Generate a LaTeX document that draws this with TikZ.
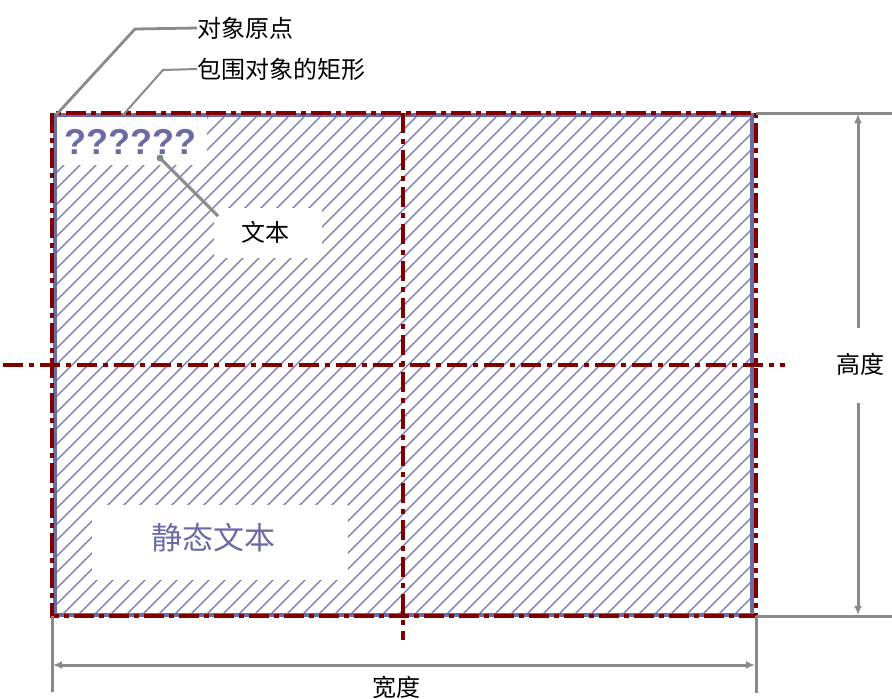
\documentclass[tikz,border=0pt]{standalone}
\usepackage{fontspec}
\setmainfont{Noto Sans CJK SC}
\newfontfamily\qfont{Liberation Sans}
\usetikzlibrary{arrows.meta}
\definecolor{slate}{RGB}{107,107,166}
\definecolor{hatchc}{RGB}{115,115,175}
\definecolor{dred}{RGB}{128,0,0}
\definecolor{lgray}{RGB}{138,138,138}
\begin{document}
\begin{tikzpicture}[x=1pt,y=-1pt,
  lbl/.style={font=\fontsize{24}{24}\selectfont, inner sep=0pt, text=black},
  leader/.style={draw=lgray, line width=2.8pt},
  dimline/.style={draw=lgray, line width=3pt},
  dimarr/.style={draw=lgray, line width=3pt, -{Latex[length=9pt,width=8pt]}},
  dimboth/.style={draw=lgray, line width=3pt, {Latex[length=9pt,width=8pt]}-{Latex[length=9pt,width=8pt]}},
  centreline/.style={draw=dred, line width=4pt, dash pattern=on 20pt off 6pt on 5pt off 6pt},
  hatchline/.style={draw=hatchc, line width=1.3pt},
  gap/.style={fill=white, draw=none},
  ]
\useasboundingbox (0,0) rectangle (892,699);
% hatching
\begin{scope}
  \clip (55,115) rectangle (752,615);
  \foreach \c in {-450,-434,...,760} \draw[hatchline] (\c,615) -- ++(500,-500);
\end{scope}
% white gaps in hatching
\fill[gap] (55,115) rectangle (207,165);
\fill[gap] (214,208) rectangle (322,258);
\fill[gap] (92,505) rectangle (348,580);
% texts inside
\node[inner sep=0pt, font=\qfont\bfseries\fontsize{36}{36}\selectfont, text=slate] (qq) at (130,142) {??????};
\node[lbl] (wb) at (265,232) {文本};
\node[inner sep=0pt, font=\fontsize{31}{31}\selectfont, text=slate] (jt) at (213,538) {静态文本};
% rectangles
\draw[slate, line width=4pt] (55,115) rectangle (752,615);
\draw[dred, line width=4.5pt, dash pattern=on 20pt off 5pt on 5pt off 5pt] (52,113) rectangle (756,616);
% centre lines
\coordinate (vt) at (403,113);
\coordinate (vb) at (403,640);
\coordinate (hl) at (3,365);
\coordinate (hr) at (785,365);
\draw[centreline] (vt) -- (vb);
\draw[centreline] (hl) -- (hr);
% top labels and leaders
\node[lbl, anchor=west] (orig) at (197,28) {对象原点};
\node[lbl, anchor=west] (bbox) at (197,69) {包围对象的矩形};
\coordinate (o1) at (56,115);
\coordinate (o2) at (135,29);
\coordinate (b1) at (123,115);
\coordinate (b2) at (163,70);
\draw[leader] (o1) -- (o2) -- (orig.west);
\draw[leader, line width=2pt] (b1) -- (b2) -- (bbox.west);
% leader to text
\coordinate (t1) at (160,158);
\coordinate (t2) at (218,216);
\fill[lgray] (t1) circle (3.5pt);
\draw[leader, line width=3pt] (t1) -- (t2);
% height dimension
\coordinate (e1) at (756,113);
\coordinate (e1r) at (892,113);
\coordinate (e2) at (756,616);
\coordinate (e2r) at (892,616);
\draw[dimline] (e1) -- (e1r);
\draw[dimline] (e2) -- (e2r);
\node[lbl] (hgt) at (860,364) {高度};
\coordinate (vd1) at (858,328);
\coordinate (vd1t) at (858,114);
\coordinate (vd2) at (858,403);
\coordinate (vd2b) at (858,615);
\draw[dimarr] (vd1) -- (vd1t);
\draw[dimarr] (vd2) -- (vd2b);
% width dimension
\coordinate (w1) at (52,616);
\coordinate (w1b) at (52,692);
\coordinate (w2) at (756,616);
\coordinate (w2b) at (756,693);
\draw[dimline] (w1) -- (w1b);
\draw[dimline] (w2) -- (w2b);
\coordinate (wa) at (53,665);
\coordinate (wb2) at (755,665);
\draw[dimboth] (wa) -- (wb2);
\node[lbl] (wid) at (396,687) {宽度};
\end{tikzpicture}
\end{document}
